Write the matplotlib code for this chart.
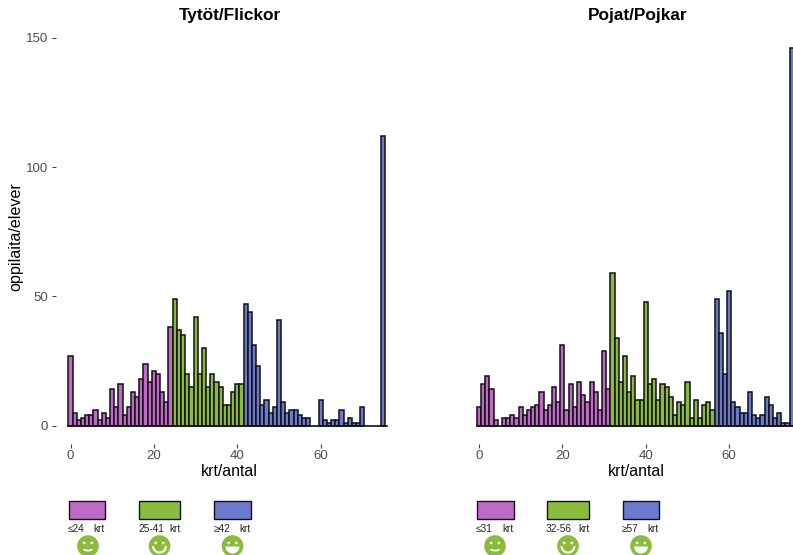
import matplotlib
matplotlib.use("Agg")
import matplotlib.pyplot as plt
from matplotlib.patches import Circle, Rectangle, Wedge, Arc

plt.rcParams['font.family'] = ['Liberation Sans', 'DejaVu Sans']

panel_titles = ["Tytöt/Flickor", "Pojat/Pojkar"]
x_label = "krt/antal"
y_label = "oppilaita/elever"
x_ticks = [0, 20, 40, 60]
y_ticks = [0, 50, 100, 150]
colors = ["#BF6AC6", "#8ABB3F", "#6C79CC"]

girls = [27,5,2,3,4,4,6,2,5,3,14,7,16,4,7,13,11,18,24,17,21,20,13,9,38,
         49,37,35,20,15,42,20,30,15,20,17,15,8,8,13,16,16,
         47,44,31,23,8,10,5,7,41,9,5,6,6,4,3,3,0,0,10,2,1,2,2,6,1,3,1,1,7,0,0,0,0,112]
boys = [7,16,19,14,2,0,3,3,4,3,7,4,6,7,8,13,6,8,15,9,31,6,16,7,17,12,9,17,13,6,29,14,
        59,34,17,27,13,19,10,10,48,16,18,10,16,15,11,4,9,8,17,3,10,3,8,9,6,
        49,36,20,52,9,7,5,5,13,4,3,4,11,8,3,5,1,1,146]
girls_cuts = [25, 42]
boys_cuts = [32, 57]
girls_legend = ["≤24", "25-41", "≥42"]
boys_legend = ["≤31", "32-56", "≥57"]
unit = "krt"

W, H = 793, 555
PX = 72 / 100  # points per pixel
fig = plt.figure(figsize=(W/100, H/100), dpi=100)

def axbox(x0, x1, ytop=38.0, ybot=425.5):
    return [x0/W, 1-ybot/H, (x1-x0)/W, (ybot-ytop)/H]

def panel(x0px, zero_px, right_px, values, cuts, title):
    ax = fig.add_axes(axbox(x0px, right_px))
    ppu = 4.17
    ax.set_xlim((x0px-zero_px)/ppu, (right_px-zero_px)/ppu)
    ax.set_ylim(0, 150)
    for i, v in enumerate(values):
        if v == 0:
            continue
        c = colors[0] if i < cuts[0] else colors[1] if i < cuts[1] else colors[2]
        ax.bar(i, v, width=1.0, color=c, edgecolor="#111111", linewidth=1.1, clip_on=False)
    for s in ["top", "right", "left", "bottom"]:
        ax.spines[s].set_visible(False)
    ax.spines["bottom"].set_position(("outward", 18.5*PX))
    ax.spines["left"].set_position(("outward", 12*PX))
    ax.axhline(0, color="#111111", lw=1.2, clip_on=False)
    ax.set_xticks(x_ticks)
    ax.tick_params(axis="x", length=3*PX*1.4, width=0.8, color="#444444", labelcolor="#4D4D4D", labelsize=9.5, pad=1.5)
    ax.set_xlabel(x_label, fontsize=11.4)
    ax.xaxis.set_label_coords(0.505, -(471.5-425.5)/387.5)
    ax.xaxis.label.set_va("center")
    ax.set_title(title, fontsize=12.4, fontweight="bold", pad=13, x=0.507)
    return ax

axL = panel(68, 70.5, 387, girls, girls_cuts, panel_titles[0])
axL.set_yticks(y_ticks)
axL.tick_params(axis="y", length=4*PX, width=0.8, color="#444444", labelcolor="#4D4D4D", labelsize=9.5, pad=3)
axL.set_ylabel(y_label, fontsize=11.6)
axL.yaxis.set_label_coords((15.5-68)/319, (425.5-237)/387.5)
axL.yaxis.label.set_va("center")
axR = panel(477, 479, 793, boys, boys_cuts, panel_titles[1])
axR.set_yticks([])

# overlay in pixel coordinates for the legend keys and smileys
ov = fig.add_axes([0, 0, 1, 1], facecolor="none")
ov.set_xlim(0, W); ov.set_ylim(H, 0); ov.axis("off")

def smiley(cx, cy, level):
    g = "#8ABB3F"
    ov.add_patch(Circle((cx, cy), 10.8, fc=g, ec="none"))
    ov.add_patch(Circle((cx-3.8, cy-3), 1.3, fc="white", ec="none"))
    ov.add_patch(Circle((cx+3.8, cy-3), 1.3, fc="white", ec="none"))
    if level == 0:
        ov.add_patch(Arc((cx, cy+3), 8, 3, theta1=0, theta2=180, ec="white", lw=1.3))
    elif level == 1:
        ov.add_patch(Arc((cx, cy), 13, 13, theta1=0, theta2=180, ec="white", lw=1.5))
    else:
        ov.add_patch(Wedge((cx, cy+0.5), 7, 0, 180, fc="white", ec="none"))

def legend(keys, labels):
    for i, ((x0, x1, txt_l, txt_r, sx), lab) in enumerate(zip(keys, labels)):
        ov.add_patch(Rectangle((x0, 501), x1-x0, 18, fc=colors[i], ec="#111111", lw=1.0))
        ov.text(txt_l, 529, lab, fontsize=7.3, color="#222222", va="center", ha="left")
        ov.text(txt_r, 529, unit, fontsize=7.3, color="#222222", va="center", ha="right")
        smiley(sx, 546, i)

legend([(68.5, 105, 68, 105, 88), (138.5, 180, 138, 181, 159.5), (214, 250.5, 214, 251, 232.5)], girls_legend)
legend([(477, 513.5, 476, 514, 495), (547, 589, 546, 589.5, 568), (622.5, 659, 622, 659, 641)], boys_legend)

fig.savefig("out.png", dpi=100)
